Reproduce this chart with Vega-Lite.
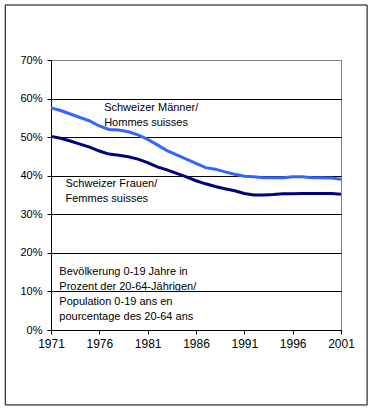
{
  "$schema": "https://vega.github.io/schema/vega-lite/v6.json",
  "width": 290,
  "height": 270,
  "autosize": "none",
  "padding": {"left": 51, "top": 60, "right": 33, "bottom": 82},
  "background": "white",
  "config": {
    "view": {"stroke": "#808080", "strokeWidth": 1},
    "font": "Liberation Sans",
    "axis": {"labelOverlap": false, "labelFlush": false, "labelBound": false, "labelColor": "black", "labelFont": "Liberation Sans", "domainColor": "black", "tickColor": "black", "tickSize": 4}
  },
  "datasets": {
    "series": [
      {"year": 1971, "group": "Männer", "value": 0.576},
      {"year": 1972, "group": "Männer", "value": 0.569},
      {"year": 1973, "group": "Männer", "value": 0.560},
      {"year": 1974, "group": "Männer", "value": 0.551},
      {"year": 1975, "group": "Männer", "value": 0.542},
      {"year": 1976, "group": "Männer", "value": 0.529},
      {"year": 1977, "group": "Männer", "value": 0.520},
      {"year": 1978, "group": "Männer", "value": 0.5185},
      {"year": 1979, "group": "Männer", "value": 0.514},
      {"year": 1980, "group": "Männer", "value": 0.506},
      {"year": 1981, "group": "Männer", "value": 0.494},
      {"year": 1982, "group": "Männer", "value": 0.480},
      {"year": 1983, "group": "Männer", "value": 0.465},
      {"year": 1984, "group": "Männer", "value": 0.454},
      {"year": 1985, "group": "Männer", "value": 0.443},
      {"year": 1986, "group": "Männer", "value": 0.432},
      {"year": 1987, "group": "Männer", "value": 0.421},
      {"year": 1988, "group": "Männer", "value": 0.417},
      {"year": 1989, "group": "Männer", "value": 0.410},
      {"year": 1990, "group": "Männer", "value": 0.404},
      {"year": 1991, "group": "Männer", "value": 0.3985},
      {"year": 1992, "group": "Männer", "value": 0.397},
      {"year": 1993, "group": "Männer", "value": 0.395},
      {"year": 1994, "group": "Männer", "value": 0.395},
      {"year": 1995, "group": "Männer", "value": 0.395},
      {"year": 1996, "group": "Männer", "value": 0.397},
      {"year": 1997, "group": "Männer", "value": 0.397},
      {"year": 1998, "group": "Männer", "value": 0.395},
      {"year": 1999, "group": "Männer", "value": 0.395},
      {"year": 2000, "group": "Männer", "value": 0.394},
      {"year": 2001, "group": "Männer", "value": 0.391},
      {"year": 1971, "group": "Frauen", "value": 0.502},
      {"year": 1972, "group": "Frauen", "value": 0.497},
      {"year": 1973, "group": "Frauen", "value": 0.490},
      {"year": 1974, "group": "Frauen", "value": 0.482},
      {"year": 1975, "group": "Frauen", "value": 0.474},
      {"year": 1976, "group": "Frauen", "value": 0.464},
      {"year": 1977, "group": "Frauen", "value": 0.456},
      {"year": 1978, "group": "Frauen", "value": 0.453},
      {"year": 1979, "group": "Frauen", "value": 0.449},
      {"year": 1980, "group": "Frauen", "value": 0.443},
      {"year": 1981, "group": "Frauen", "value": 0.434},
      {"year": 1982, "group": "Frauen", "value": 0.423},
      {"year": 1983, "group": "Frauen", "value": 0.415},
      {"year": 1984, "group": "Frauen", "value": 0.406},
      {"year": 1985, "group": "Frauen", "value": 0.397},
      {"year": 1986, "group": "Frauen", "value": 0.387},
      {"year": 1987, "group": "Frauen", "value": 0.379},
      {"year": 1988, "group": "Frauen", "value": 0.372},
      {"year": 1989, "group": "Frauen", "value": 0.366},
      {"year": 1990, "group": "Frauen", "value": 0.361},
      {"year": 1991, "group": "Frauen", "value": 0.354},
      {"year": 1992, "group": "Frauen", "value": 0.350},
      {"year": 1993, "group": "Frauen", "value": 0.350},
      {"year": 1994, "group": "Frauen", "value": 0.351},
      {"year": 1995, "group": "Frauen", "value": 0.353},
      {"year": 1996, "group": "Frauen", "value": 0.353},
      {"year": 1997, "group": "Frauen", "value": 0.354},
      {"year": 1998, "group": "Frauen", "value": 0.354},
      {"year": 1999, "group": "Frauen", "value": 0.354},
      {"year": 2000, "group": "Frauen", "value": 0.354},
      {"year": 2001, "group": "Frauen", "value": 0.352}
    ],
    "notes": [
      {"label": "Männer", "year": 1976.5, "value": 0.591, "text": ["Schweizer Männer/", "Hommes suisses"]},
      {"label": "Frauen", "year": 1972.5, "value": 0.394, "text": ["Schweizer Frauen/", "Femmes suisses"]},
      {"label": "Info", "year": 1971.86, "value": 0.1666, "text": ["Bevölkerung 0-19 Jahre in", "Prozent der 20-64-Jährigen/", "Population 0-19 ans en", "pourcentage des 20-64 ans"]}
    ]
  },
  "layer": [
    {
      "data": {"name": "series"},
      "mark": {"type": "line", "strokeWidth": 3, "clip": false},
      "encoding": {
        "x": {
          "field": "year", "type": "quantitative",
          "scale": {"domain": [1971, 2001], "nice": false, "zero": false},
          "axis": {
            "title": null,
            "values": [1971, 1976, 1981, 1986, 1991, 1996, 2001],
            "format": "d",
            "grid": false,
            "labelFontSize": 12,
            "labelPadding": 4
          }
        },
        "y": {
          "field": "value", "type": "quantitative",
          "scale": {"domain": [0, 0.7], "nice": false},
          "axis": {
            "title": null,
            "values": [0, 0.1, 0.2, 0.3, 0.4, 0.5, 0.6, 0.7],
            "tickCount": 8,
            "format": ".0%",
            "grid": true,
            "gridColor": {"condition": {"test": "datum.value > 0.65", "value": "#808080"}, "value": "black"},
            "gridOpacity": 1,
            "labelFontSize": 11,
            "labelPadding": 5
          }
        },
        "color": {
          "field": "group", "type": "nominal",
          "scale": {"domain": ["Männer", "Frauen"], "range": ["#3366FF", "#000080"]},
          "legend": null
        }
      }
    },
    {
      "data": {"name": "notes"},
      "mark": {"type": "text", "align": "left", "baseline": "top", "fontSize": 11, "lineHeight": 15, "fill": "black", "font": "Liberation Sans"},
      "encoding": {
        "x": {"field": "year", "type": "quantitative"},
        "y": {"field": "value", "type": "quantitative"},
        "text": {"field": "text"}
      }
    },
    {
      "data": {"values": [{}]},
      "mark": {"type": "rect", "fill": null, "stroke": "black", "strokeWidth": 1, "clip": false},
      "encoding": {
        "x": {"datum": 1966.27, "type": "quantitative"},
        "x2": {"datum": 2003.7},
        "y": {"datum": 0.8426, "type": "quantitative"},
        "y2": {"datum": -0.1944}
      }
    }
  ]
}
